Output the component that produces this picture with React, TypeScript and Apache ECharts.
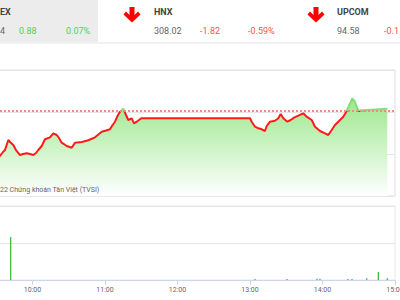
import React, { useEffect, useRef } from "react";
import * as echarts from "echarts";

// Previous close (reference) of the index
const REF = 1260.48;

// Intraday index, time in minutes since 00:00
const priceTimes = [
  572.28, 573.1, 575.59, 577.24, 579.97, 581.38, 584.11, 586.34, 589.66, 592.14,
  595.2, 597.93, 600.66, 602.9, 604.8, 607.61, 610.34, 614.48, 617.21, 620.03,
  621.93, 624.17, 628.3, 632.44, 635.17, 640.72, 644.85, 647.59, 651.72, 657.27,
  660.83, 664.14, 665.79, 668.28, 670.76, 672.41, 675.14, 677.38, 679.28, 682.1,
  684.0, 686.24, 690, 780, 781.41, 784.14, 786.87, 789.68, 792.41, 793.82,
  796.55, 800.69, 803.42, 805.41, 807.56, 810.87, 813.68, 816.41, 819.97, 824.11,
  826.92, 831.06, 833.79, 837.93, 842.07, 844.8, 847.61, 850.34, 854.48, 857.21,
  860.03, 862.76, 864.66, 866.9, 868.8, 870.46, 871.03, 893.63,
];
const priceValues = [
  1239.05, 1239.05, 1240.95, 1241.9, 1246.67, 1245.71, 1244.29, 1241.9, 1239.52, 1240.0,
  1240.33, 1240.0, 1239.52, 1240.48, 1241.9, 1243.81, 1247.0, 1247.95, 1249.86, 1249.05,
  1247.62, 1245.38, 1243.81, 1243.0, 1245.38, 1245.71, 1246.33, 1246.9, 1247.95, 1250.62,
  1251.19, 1251.76, 1253.33, 1255.38, 1258.57, 1260.14, 1261.57, 1258.57, 1256.19, 1257.0,
  1254.62, 1255.38, 1257.0, 1257.0, 1255.38, 1253.0, 1252.24, 1251.76, 1250.95, 1253.33,
  1255.38, 1255.86, 1257.0, 1259.05, 1257.0, 1255.38, 1256.19, 1257.29, 1258.24, 1259.38,
  1257.76, 1256.19, 1253.0, 1250.95, 1249.86, 1249.05, 1251.43, 1253.81, 1256.19, 1257.76,
  1260.48, 1264.14, 1266.52, 1264.9, 1261.76, 1260.24, 1260.71, 1261.52,
];

// Volume bars
const volTimes = [581.96, 784.1, 810.6, 835.4, 837.9, 861.1, 864.4, 876.6, 886.2, 893.6];
const volValues = [2.32, 0.05, 0.05, 0.07, 0.07, 0.05, 0.05, 0.1, 0.43, 0.1];

// Header quotes
const headerNames = ["EX", "HNX", "UPCOM"];
const headerPrices = ["4", "308.02", "94.58"];
const headerChanges = ["0.88", "-1.82", "-0.1"];
const headerPercents = ["0.07%", "-0.59%", ""];

const fmtTime = (v: number) => {
  const h = Math.floor(v / 60);
  const m = Math.round(v % 60);
  return `${h}:${m < 10 ? "0" + m : m}`;
};

const arrow = (cx: number) => ({
  type: "polygon",
  z: 100,
  shape: {
    points: [
      [cx - 2.5, 7],
      [cx + 2.5, 7],
      [cx + 2.5, 15],
      [cx + 6, 11.5],
      [cx + 8.5, 14.5],
      [cx, 22.5],
      [cx - 8.5, 14.5],
      [cx - 6, 11.5],
      [cx - 2.5, 15],
    ],
  },
  style: { fill: "#ff0000" },
});

const txt = (x: number, y: number, text: string, fill: string, bold = false) => ({
  type: "text",
  z: 100,
  x,
  y,
  style: {
    text,
    fill,
    font: `${bold ? "bold " : ""}9px Roboto`,
    verticalAlign: "middle",
    textAlign: "left",
  },
});

export default function App() {
  const ref = useRef<HTMLDivElement>(null);
  useEffect(() => {
    if (!ref.current) return;
    const chart = echarts.init(ref.current, undefined, { renderer: "svg" });
    const green = "#55cf55";
    const red = "#ff4d4d";
    const maxV = Math.max(...priceValues);
    const minV = Math.min(...priceValues);
    const off = (maxV - REF) / (maxV - minV);
    const lineColor = new echarts.graphic.LinearGradient(0, 0, 0, 1, [
      { offset: 0, color: "#86dc77" },
      { offset: off, color: "#86dc77" },
      { offset: off, color: "#ff1a1a" },
      { offset: 1, color: "#ff1a1a" },
    ]);
    chart.setOption({
      animation: false,
      backgroundColor: "#ffffff",
      grid: [
        {
          left: -40, right: 5, top: 70, bottom: 104,
          outerBoundsMode: "none", containLabel: false,
          show: true, borderColor: "#e0e0e0", borderWidth: 1,
        },
        {
          left: -40, right: 5, top: 206, bottom: 20,
          outerBoundsMode: "none", containLabel: false,
          show: true, borderColor: "#e6e6e6", borderWidth: 1,
        },
      ],
      xAxis: [
        { type: "value", gridIndex: 0, min: 540, max: 900, interval: 60, show: false, splitLine: { show: false } },
        {
          type: "value",
          gridIndex: 1,
          min: 540,
          max: 900,
          interval: 60,
          splitLine: { show: false },
          axisLine: { lineStyle: { color: "#ccd6eb" } },
          axisTick: { show: true, length: 5, lineStyle: { color: "#ccd6eb" } },
          axisLabel: {
            formatter: fmtTime,
            color: "#666",
            fontSize: 7,
            fontFamily: "Roboto",
            margin: 6,
            showMinLabel: false,
          },
        },
      ],
      yAxis: [
        {
          type: "value",
          gridIndex: 0,
          min: 1220,
          max: 1280,
          interval: 20,
          axisLabel: { show: false },
          axisLine: { show: false },
          axisTick: { show: false },
          splitLine: { lineStyle: { color: "#e6e6e6" } },
        },
        {
          type: "value",
          gridIndex: 1,
          min: 0,
          max: 4,
          interval: 2,
          axisLabel: { show: false },
          axisLine: { show: false },
          axisTick: { show: false },
          splitLine: { lineStyle: { color: "#e6e6e6" } },
        },
      ],
      series: [
        {
          type: "line",
          xAxisIndex: 0,
          yAxisIndex: 0,
          data: priceTimes.map((t, i) => [t, priceValues[i]]),
          symbol: "none",
          lineStyle: { width: 2, color: lineColor },
          areaStyle: {
            origin: "start",
            opacity: 1,
            color: new echarts.graphic.LinearGradient(0, 0, 0, 1, [
              { offset: 0, color: "#9be88c" },
              { offset: 1, color: "#ffffff" },
            ]),
          },
          markLine: {
            silent: true,
            symbol: "none",
            label: { show: false },
            lineStyle: { color: "#f08a8a", type: "dotted", width: 2 },
            data: [{ yAxis: REF }],
          },
        },
        {
          type: "bar",
          xAxisIndex: 1,
          yAxisIndex: 1,
          data: volTimes.map((t, i) => [t, volValues[i]]),
          barWidth: 1.2,
          itemStyle: { color: "#33b533" },
        },
      ],
      graphic: [
        { type: "rect", z: 100, shape: { x: 0, y: 0, width: 98, height: 42 }, style: { fill: "#ececec" } },
        { type: "rect", z: 100, shape: { x: 0, y: 42, width: 400, height: 2 }, style: { fill: "#f2f2f2" } },
        txt(0, 12, headerNames[0], "#444", true),
        txt(0, 31, headerPrices[0], "#666"),
        txt(19, 31, headerChanges[0], green),
        txt(66, 31, headerPercents[0], green),
        arrow(132),
        txt(154, 12, headerNames[1], "#444", true),
        txt(154, 31, headerPrices[1], "#666"),
        txt(200, 31, headerChanges[1], red),
        txt(248, 31, headerPercents[1], red),
        arrow(316),
        txt(337, 12, headerNames[2], "#444", true),
        txt(337, 31, headerPrices[2], "#666"),
        txt(384, 31, headerChanges[2], red),
        {
          type: "text",
          z: 100,
          x: 0,
          y: 190,
          style: {
            text: "22 Chứng khoán Tân Việt (TVSI)",
            fill: "#666",
            font: "7px Roboto",
            verticalAlign: "middle",
          },
        },
      ],
    });
    return () => chart.dispose();
  }, []);
  return (
    <div
      ref={ref}
      style={{ position: "fixed", left: 0, top: 0, width: 400, height: 300 }}
    />
  );
}
